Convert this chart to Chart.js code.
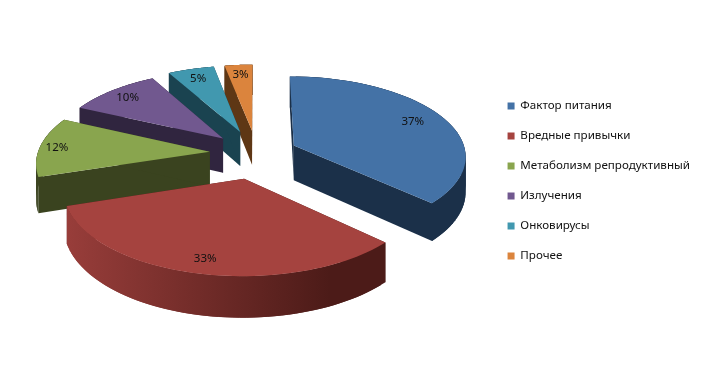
<!DOCTYPE html>
<html>
<head>
<meta charset="utf-8">
<style>
    html, body { margin: 0; padding: 0; background: #fff; }
    #wrap { width: 705px; height: 388px; }
</style>
<script src="https://cdn.jsdelivr.net/npm/chart.js@4"></script>
</head>
<body>
<div id="wrap"><canvas id="chart" width="705" height="388"></canvas></div>
<script>
const categories = ["Фактор питания", "Вредные привычки", "Метаболизм репродуктивный", "Излучения", "Онковирусы", "Прочее"];
const shares = [37, 33, 12, 10, 5, 3];
const topColors = ["#4472a6", "#a5433f", "#89a54e", "#71588f", "#4198af", "#db843d"];
const wallColors = ["#1b3049", "#4c1b18", "#3a431f", "#30253f", "#1a4350", "#5e3715"];
const wallLightColors = ["#1b3049", "#9a3e3b", "#3a431f", "#30253f", "#1a4350", "#5e3715"];
const explode = [41, 55, 47, 47, 50, 50];
const labelRadius = [0.8, 0.86, 0.9, 0.85, 0.84, 0.84];

// fake 3D: the arcs keep the library geometry, only the projection is ours
const TILT = 0.46;
const PERSPECTIVE = 0.12;
const DEPTH = 35;
const SHIFT_Y = -28;
const FONT = "'Noto Sans', sans-serif";

function project(arc, u, v, z) {
    const s = 1 / (1 - PERSPECTIVE * v / arc.outerRadius);
    return {
        x: arc.x + u * s,
        y: arc.y + SHIFT_Y + (v * TILT + z) * s
    };
}

function groundPoint(arc, angle, rho) {
    const mid = (arc.startAngle + arc.endAngle) / 2;
    const off = arc.options.offset;
    return {
        u: Math.cos(mid) * off + Math.cos(angle) * arc.outerRadius * rho,
        v: Math.sin(mid) * off + Math.sin(angle) * arc.outerRadius * rho
    };
}

function fillPoly(ctx, pts, fill) {
    ctx.beginPath();
    pts.forEach((p, i) => i ? ctx.lineTo(p.x, p.y) : ctx.moveTo(p.x, p.y));
    ctx.closePath();
    ctx.fillStyle = fill;
    ctx.fill();
}

// overlapping quads, a single polygon leaves holes where the rim folds over
function wall(ctx, arc, ground, fill) {
    for (let k = 0; k < ground.length - 1; k++) {
        const a = ground[k];
        const b = ground[Math.min(k + 2, ground.length - 1)];
        fillPoly(ctx, [
            project(arc, a.u, a.v, 0),
            project(arc, b.u, b.v, 0),
            project(arc, b.u, b.v, DEPTH),
            project(arc, a.u, a.v, DEPTH)
        ], fill);
    }
}

const pie3d = {
    id: "pie3d",
    beforeDatasetsDraw(chart) {
        const ctx = chart.ctx;
        const arcs = chart.getDatasetMeta(0).data;
        const order = arcs.map((a, i) => i).sort((a, b) =>
            Math.sin((arcs[a].startAngle + arcs[a].endAngle) / 2) - Math.sin((arcs[b].startAngle + arcs[b].endAngle) / 2));

        order.forEach(i => {
            const arc = arcs[i];
            const apex = groundPoint(arc, 0, 0);
            const rim = [];
            for (let k = 0; k <= 60; k++) {
                rim.push(groundPoint(arc, arc.startAngle + (arc.endAngle - arc.startAngle) * k / 60, 1));
            }
            wall(ctx, arc, [apex, rim[0]], wallColors[i]);
            wall(ctx, arc, [apex, rim[60]], wallColors[i]);

            const grad = ctx.createLinearGradient(60, 0, 330, 0);
            grad.addColorStop(0, wallLightColors[i]);
            grad.addColorStop(1, wallColors[i]);
            wall(ctx, arc, rim, grad);

            const top = [apex].concat(rim).map(g => project(arc, g.u, g.v, 0));
            fillPoly(ctx, top, topColors[i]);
        });

        ctx.fillStyle = "#111";
        ctx.font = "11.5px " + FONT;
        ctx.textAlign = "center";
        ctx.textBaseline = "middle";
        arcs.forEach((arc, i) => {
            const g = groundPoint(arc, (arc.startAngle + arc.endAngle) / 2, labelRadius[i]);
            const p = project(arc, g.u, g.v, 0);
            ctx.fillText(shares[i] + "%", p.x, p.y);
        });
        return false;
    }
};

new Chart(document.getElementById("chart"), {
    type: "pie",
    data: {
        labels: categories,
        datasets: [{
            data: shares,
            backgroundColor: topColors,
            borderWidth: 0,
            offset: explode
        }]
    },
    options: {
        responsive: false,
        animation: false,
        radius: 172,
        layout: { padding: { left: 24, right: 5, top: 0, bottom: 26 } },
        plugins: {
            tooltip: { enabled: false },
            legend: {
                position: "right",
                labels: {
                    boxWidth: 7,
                    boxHeight: 7,
                    padding: 18.4,
                    color: "#111",
                    font: { family: FONT, size: 11.6 }
                }
            }
        }
    },
    plugins: [pie3d]
});
</script>
</body>
</html>
